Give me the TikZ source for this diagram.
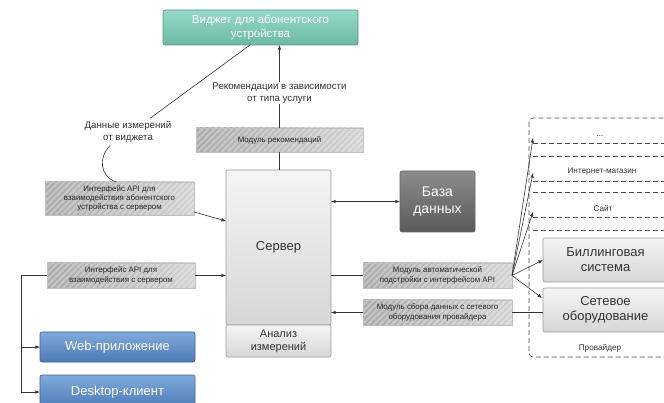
\documentclass[tikz,border=0pt]{standalone}
\usepackage{fontspec}
\setmainfont{Liberation Sans}
\usetikzlibrary{positioning}

\definecolor{wtop}{HTML}{97D8C8}
\definecolor{wbot}{HTML}{6CB9A6}
\definecolor{btop}{HTML}{80AADB}
\definecolor{bbot}{HTML}{4C79B6}
\definecolor{dtop}{HTML}{8C8C8C}
\definecolor{dbot}{HTML}{5A5A5A}

\begin{document}
\begin{tikzpicture}[x=1pt,y=-1pt,every node/.style={outer sep=0pt},
 line width=0.6pt,
 conn/.style={draw=black!80},
 label/.style={text=black!80,align=center,font=\fontsize{9.7}{11.5}\selectfont},
 small/.style={text=black!80,align=center,font=\fontsize{8.2}{10}\selectfont},
 box/.style={draw=black!40,rounded corners=2pt,align=center,inner sep=0pt},
 widget/.style={box,draw=wbot!80!black,top color=wtop,bottom color=wbot,text=white,
  font=\fontsize{11.5}{14}\selectfont},
 srv/.style={box,top color=black!4,bottom color=black!16,text=black!80},
 dbase/.style={box,draw=black!60,top color=dtop,bottom color=dbot,text=white,
  font=\fontsize{14}{17}\selectfont},
 client/.style={box,draw=bbot!80!black,top color=btop,bottom color=bbot,text=white,
  font=\fontsize{13}{15}\selectfont},
 hatch/.style={draw=black!25,left color=black!34,right color=black!18,text=black!85,
  align=center,inner sep=0pt,font=\fontsize{7.9}{9.3}\selectfont,
  path picture={\foreach \s in {-220,-214,...,220}
   \draw[white,opacity=0.3,line width=2.4pt]
    ([xshift=\s pt]path picture bounding box.south) -- ++(60,-60);}},
 rowline/.style={draw=black!70,dash pattern=on 5pt off 3pt}]

\useasboundingbox (0,0) rectangle (664,403);
\clip (0,0) rectangle (664,403);

% upper part
\node[widget,minimum width=195,minimum height=35] (widget) at (260.5,27.5) {Виджет для абонентского\\устройства};
\node[hatch,minimum width=167,minimum height=24] (recmod) at (279.5,140) {Модуль рекомендаций};
\node[label] (datalabel) at (128,132) {Данные измерений\\от виджета};
\node[hatch,minimum width=149,minimum height=33] (apiuser) at (119.5,198.5) {Интерфейс API для\\взаимодействия абонентского\\устройства с сервером};

% server and database
\node[srv,minimum width=105,minimum height=155,font=\fontsize{13}{15}\selectfont] (server) at (278.5,247.5) {Сервер};
\node[srv,minimum width=105,minimum height=32,font=\fontsize{11}{13}\selectfont] (analysis) at (278.5,341) {Анализ\\измерений};
\node[dbase,minimum width=75,minimum height=61] (db) at (437.5,201.5) {База\\данных};
\node[hatch,minimum width=149,minimum height=25] (automod) at (437.5,275.5) {Модуль автоматической\\подстройки с интерфейсом API};
\node[hatch,minimum width=149,minimum height=25] (collectmod) at (437.5,312.5) {Модуль сбора данных с сетевого\\оборудования провайдера};

% clients
\node[hatch,minimum width=148,minimum height=25] (apiclient) at (121,275.5) {Интерфейс API для\\взаимодействия с сервером};
\node[client,minimum width=155,minimum height=30] (web) at (117.5,347) {Web-приложение};
\node[client,minimum width=155,minimum height=34] (desktop) at (117.5,392) {Desktop-клиент};

% provider
\draw[rowline,rounded corners=4pt] (529,118) rectangle (690,357);
\foreach \y in {143,156,181,192,217,230}
  \draw[rowline] (533,\y) -- (670,\y);
\node[small] (dots) at (600,136) {...};
\node[small] (shop) at (602,172) {Интернет-магазин};
\node[small] (site) at (603,208) {Сайт};
\node[srv,minimum width=125,minimum height=44,font=\fontsize{13}{15}\selectfont] (billing) at (605.5,260) {Биллинговая\\система};
\node[srv,minimum width=125,minimum height=44,font=\fontsize{13}{15}\selectfont] (network) at (605.5,310) {Сетевое\\оборудование};
\node[small] (provider) at (600,348) {Провайдер};
\coordinate (tipdots) at (533,138);
\coordinate (tipshop) at (533,173);
\coordinate (tipsite) at (533,212);
\coordinate (tipnet) at (542,298);

% connectors
\draw[conn,-latex] (recmod.north) -- node[pos=0.42,label,fill=white,inner sep=1pt] (reclabel) {Рекомендации в зависимости\\от типа услуги} (recmod.north |- widget.south);
\draw[conn] (recmod.south) -- (recmod.south |- server.north);
\draw[conn] (widget.south -| 250,0) -- (datalabel.north -| 150,0);
\draw[conn] (datalabel.south -| 110,0) .. controls (98,158) and (100,176) .. (apiuser.north -| 116,0);
\draw[conn,-latex] (apiuser.east |- 0,212) -- (server.west |- 0,221);
\draw[conn,latex-latex] (server.east |- db.west) -- (db.west);
\draw[conn] (server.east |- automod.west) -- (automod.west);
\draw[conn,-latex] (collectmod.west) -- (server.east |- collectmod.west);
\draw[conn] (collectmod.east) -- (collectmod.east -| network.west);
\draw[conn,-latex] (apiclient.east) -- (server.west |- apiclient.east);
\draw[conn,-latex] (apiclient.west) -- (21,275.5) |- (web.west);
\draw[conn,-latex] (21,340) |- (desktop.west);
\foreach \t in {tipdots,tipshop,tipsite,billing.west,tipnet}
  \draw[conn,-latex] (automod.east) -- (\t);

\end{tikzpicture}
\end{document}
